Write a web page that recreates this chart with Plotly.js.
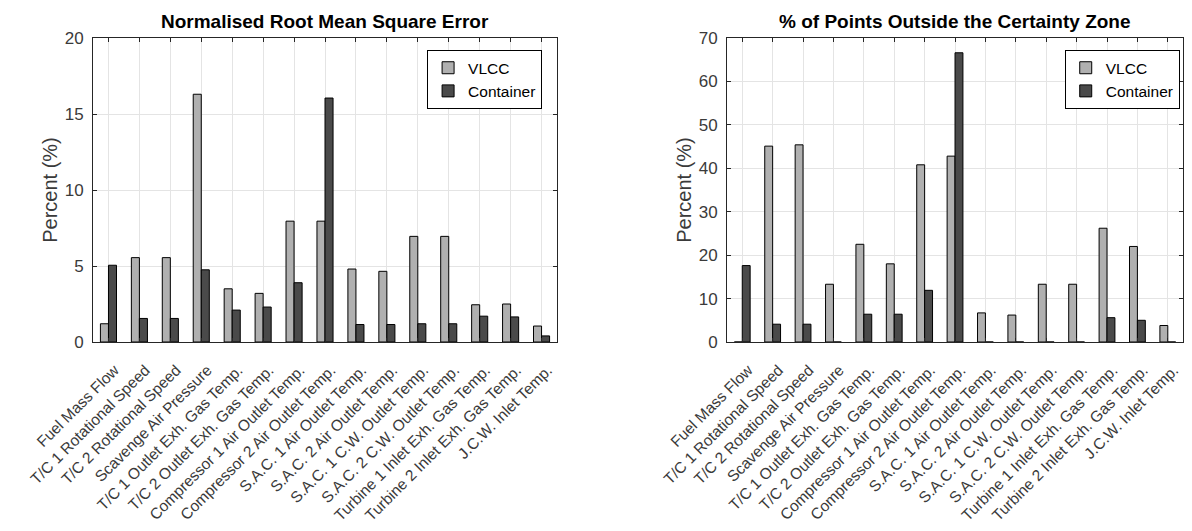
<!DOCTYPE html>
<html>
<head>
<meta charset="utf-8">
<script src="https://cdn.plot.ly/plotly-3.0.1.min.js"></script>
<style>html,body{margin:0;padding:0;background:#fff;}</style>
</head>
<body>
<div id="chart" style="width:1192px;height:531px;"></div>
<script>
const categories = [
  "Fuel Mass Flow",
  "T/C 1 Rotational Speed",
  "T/C 2 Rotational Speed",
  "Scavenge Air Pressure",
  "T/C 1 Outlet Exh. Gas Temp.",
  "T/C 2 Outlet Exh. Gas Temp.",
  "Compressor 1 Air Outlet Temp.",
  "Compressor 2 Air Outlet Temp.",
  "S.A.C. 1 Air Outlet Temp.",
  "S.A.C. 2 Air Outlet Temp.",
  "S.A.C. 1 C.W. Outlet Temp.",
  "S.A.C. 2 C.W. Outlet Temp.",
  "Turbine 1 Inlet Exh. Gas Temp.",
  "Turbine 2 Inlet Exh. Gas Temp.",
  "J.C.W. Inlet Temp."
];
const seriesNames = ["VLCC", "Container"];
const nrmseVLCC      = [1.2, 5.55, 5.55, 16.3, 3.5, 3.2, 7.95, 7.95, 4.8, 4.65, 6.95, 6.95, 2.45, 2.5, 1.05];
const nrmseContainer = [5.05, 1.55, 1.55, 4.75, 2.1, 2.3, 3.9, 16.05, 1.15, 1.15, 1.2, 1.2, 1.7, 1.65, 0.4];
const outsideVLCC      = [0, 45.1, 45.4, 13.3, 22.5, 18.0, 40.8, 42.8, 6.7, 6.2, 13.3, 13.3, 26.2, 22.0, 3.8];
const outsideContainer = [17.6, 4.1, 4.1, 0, 6.4, 6.4, 11.9, 66.6, 0, 0, 0, 0, 5.6, 5.0, 0];
const leftTitle = "Normalised Root Mean Square Error";
const rightTitle = "% of Points Outside the Certainty Zone";
const yTitle = "Percent (%)";
const leftTicks = [0, 5, 10, 15, 20];
const rightTicks = [0, 10, 20, 30, 40, 50, 60, 70];

const FONT = "Liberation Sans, Arial, Helvetica, sans-serif";
const TXT = "#3a3a3a";
const colVLCC = "#b0b0b0";
const colCont = "#4a4a4a";

function bar(name, y, color, xa, ya, leg, show) {
  return {
    type: "bar", name: name, x: categories, y: y,
    xaxis: xa, yaxis: ya, legend: leg, showlegend: show,
    marker: {color: color, line: {color: "#000", width: 1}},
    hoverinfo: "x+y+name"
  };
}

const data = [
  bar(seriesNames[0], nrmseVLCC, colVLCC, "x", "y", "legend", true),
  bar(seriesNames[1], nrmseContainer, colCont, "x", "y", "legend", true),
  bar(seriesNames[0], outsideVLCC, colVLCC, "x2", "y2", "legend2", true),
  bar(seriesNames[1], outsideContainer, colCont, "x2", "y2", "legend2", true)
];

function xax(domain, anchor) {
  return {
    domain: domain, anchor: anchor, type: "category",
    range: [-0.5, 14.5],
    tickangle: -45, tickfont: {family: FONT, size: 15.5, color: TXT},
    ticklabelstandoff: 12, ticklabelshift: 6,
    ticks: "inside", ticklen: 4, tickcolor: "#262626",
    showline: true, linecolor: "#262626", linewidth: 1, mirror: "ticks",
    showgrid: true, gridcolor: "#e4e4e4", gridwidth: 1,
    zeroline: false, automargin: false, fixedrange: true
  };
}
function yax(anchor, range, ticks, standoff) {
  return {
    anchor: anchor, domain: [0, 1], range: range,
    tickvals: ticks, ticktext: ticks.map(String),
    tickfont: {family: FONT, size: 17, color: TXT},
    ticklabelstandoff: 5,
    ticks: "inside", ticklen: 4, tickcolor: "#262626",
    showline: true, linecolor: "#262626", linewidth: 1, mirror: "ticks",
    showgrid: true, gridcolor: "#e4e4e4", gridwidth: 1,
    zeroline: false, automargin: false, fixedrange: true,
    title: {text: yTitle, font: {family: FONT, size: 20, color: TXT}, standoff: standoff}
  };
}

const layout = {
  width: 1192, height: 531,
  margin: {l: 93, r: 9, t: 38, b: 189},
  paper_bgcolor: "#fff", plot_bgcolor: "#fff",
  barmode: "group", bargap: 0.48, bargroupgap: 0,
  xaxis: xax([0, 0.4257], "y"),
  yaxis: yax("x", [0, 20], leftTicks, 1),
  xaxis2: xax([0.5817, 1.0], "y2"),
  yaxis2: yax("x2", [0, 70], rightTicks, 1),
  legend: {
    x: 0.412, xanchor: "right", y: 0.96, yanchor: "top",
    bgcolor: "#fff", bordercolor: "#000", borderwidth: 1,
    font: {family: FONT, size: 15.5, color: "#000"},
    tracegroupgap: 0, itemwidth: 30
  },
  legend2: {
    x: 0.997, xanchor: "right", y: 0.96, yanchor: "top",
    bgcolor: "#fff", bordercolor: "#000", borderwidth: 1,
    font: {family: FONT, size: 15.5, color: "#000"},
    tracegroupgap: 0, itemwidth: 30
  },
  annotations: [
    {text: "<b>" + leftTitle + "</b>", xref: "x domain", yref: "y domain", x: 0.5, y: 1,
     xanchor: "center", yanchor: "bottom", yshift: 4, showarrow: false,
     font: {family: FONT, size: 19, color: "#000"}},
    {text: "<b>" + rightTitle + "</b>", xref: "x2 domain", yref: "y2 domain", x: 0.5, y: 1,
     xanchor: "center", yanchor: "bottom", yshift: 4, showarrow: false,
     font: {family: FONT, size: 19, color: "#000"}}
  ]
};

Plotly.newPlot("chart", data, layout, {displayModeBar: false, staticPlot: true});
</script>
</body>
</html>
